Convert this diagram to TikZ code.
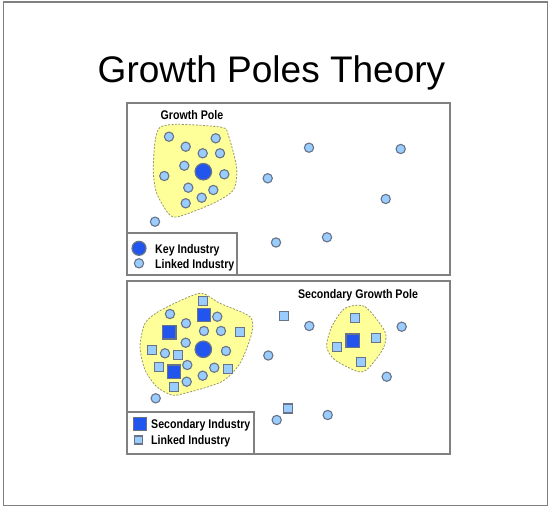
\documentclass[tikz,border=0pt]{standalone}
\usepackage{fontspec}
\setmainfont{Liberation Sans}
\newfontfamily\lblfont[FakeStretch=0.85]{Liberation Sans}
\usepackage{xcolor}
\usepackage{tikz}
\usetikzlibrary{positioning}
\definecolor{dotblue}{RGB}{153,204,255}
\definecolor{keyblue}{RGB}{34,85,238}
\definecolor{edgegray}{RGB}{105,115,135}
\definecolor{poleyellow}{RGB}{255,255,153}
\definecolor{framegray}{RGB}{128,128,128}
\definecolor{dashgray}{RGB}{150,150,110}
\newcommand{\keyat}[2]{\node[keydot] (#1) at #2 {} ;}
\newcommand{\linkat}[2]{\node[linkdot] (#1) at #2 {} ;}
\newcommand{\secat}[2]{\node[secsq] (#1) at #2 {} ;}
\newcommand{\lsqat}[2]{\node[linksq] (#1) at #2 {} ;}

\begin{document}
\begin{tikzpicture}[x=1pt,y=-1pt,
    panel/.style={draw=framegray,line width=1.5pt,fill=white},
    poleblob/.style={draw=dashgray,dashed,dash pattern=on 2pt off 1.5pt,line width=0.8pt,fill=poleyellow},
    linkdot/.style={circle,draw=edgegray,line width=1.1pt,fill=dotblue,inner sep=0pt,minimum size=9.3pt},
    keydot/.style={circle,draw=edgegray,line width=1.2pt,fill=keyblue,inner sep=0pt,minimum size=16.5pt},
    linksq/.style={rectangle,draw=edgegray,line width=1.1pt,fill=dotblue,inner sep=0pt,minimum size=9pt},
    secsq/.style={rectangle,draw=edgegray,line width=1.2pt,fill=keyblue,inner sep=0pt,minimum size=13.5pt},
    lbl/.style={font=\lblfont\bfseries\fontsize{12.5}{14}\selectfont,inner sep=0pt}]
        \useasboundingbox (0,0) rectangle (554,510);
        \draw[framegray,line width=1.7pt] (3.5,1.8) rectangle (547.5,505.5);
        \node[anchor=base,inner sep=0pt,font=\fontsize{37}{40}\selectfont] (title) at (271.5,83) {Growth Poles Theory};
        % top panel
        \draw[panel] (127,103) rectangle (450,275);
        \draw[poleblob] plot[smooth cycle,tension=0.45] coordinates {(160,127.3) (178.3,124.3) (221.7,127.3) (228.3,135) (236.7,168.3) (233.3,190) (213.3,203.3) (178.3,216.7) (168.3,213.3) (156.7,193.3) (153.3,171.7) (155,141.7)};
        \node[lbl,anchor=base] (polelbl) at (192,120) {Growth Pole};
        \keyat{K1}{(203.3,171.7)}
        \linkat{L1}{(169,136.7)}
        \linkat{L2}{(215.7,138.3)}
        \linkat{L3}{(185.7,146.7)}
        \linkat{L4}{(202.7,153.3)}
        \linkat{L5}{(220,153.3)}
        \linkat{L6}{(184.3,165.7)}
        \linkat{L7}{(164.3,176)}
        \linkat{L8}{(224.3,174.3)}
        \linkat{L9}{(188.3,187.7)}
        \linkat{L10}{(213.3,190)}
        \linkat{L11}{(201.7,197.7)}
        \linkat{L12}{(185.7,203.3)}
        \linkat{O1}{(155,221.7)}
        \linkat{O2}{(267.7,178.3)}
        \linkat{O3}{(276,242.5)}
        \linkat{O4}{(309,147.7)}
        \linkat{O5}{(400.7,149)}
        \linkat{O6}{(385.7,199)}
        \linkat{O7}{(327,237.3)}
        % top legend
        \draw[panel,line width=1.2pt] (127,233) rectangle (237,275);
        \node[keydot,minimum size=14pt] (keyleg) at (139,248.3) {};
        \node[linkdot] (linkleg) at (139,263.3) {};
        \node[lbl,anchor=base west] (keytxt) at (155,253.3) {Key Industry};
        \node[lbl,anchor=base west] (linktxt) at (155,268.3) {Linked Industry};
        % bottom panel
        \draw[panel] (127,281) rectangle (450,454);
        \draw[poleblob] plot[smooth cycle,tension=0.45] coordinates {(201.7,293.3) (220,303.3) (250,316.7) (251.7,333.3) (240,363.3) (221.7,381.7) (185,393.3) (171.7,395) (156.7,386.7) (145,370) (140,346.7) (145,323.3) (158.3,311.7) (181.7,300)};
        \draw[poleblob] plot[smooth cycle,tension=0.45] coordinates {(345,308.3) (365,306.7) (385,331.7) (383.3,348.3) (368.3,368.3) (358.3,371.7) (335,360) (326.7,346.7) (331.7,326.7)};
        \node[lbl,anchor=base] (seclbl) at (358,298.3) {Secondary Growth Pole};
        \keyat{K2}{(203.3,349.3)}
        \secat{S1}{(204,315)}
        \secat{S2}{(169.3,332.3)}
        \secat{S3}{(174,371.7)}
        \secat{S4}{(352.7,340.7)}
        \lsqat{Q1}{(202.7,300.7)}
        \lsqat{Q2}{(240,332.3)}
        \lsqat{Q3}{(151.7,350)}
        \lsqat{Q4}{(178.3,355)}
        \lsqat{Q5}{(159,367.3)}
        \lsqat{Q6}{(228.3,369.3)}
        \lsqat{Q7}{(174,386.7)}
        \lsqat{Q8}{(284,315.7)}
        \lsqat{Q9}{(288.3,408.5)}
        \lsqat{Q10}{(355,318.3)}
        \lsqat{Q11}{(336.7,347.3)}
        \lsqat{Q12}{(376,337.7)}
        \lsqat{Q13}{(361,361.7)}
        \linkat{M1}{(170,314)}
        \linkat{M2}{(217.3,316.7)}
        \linkat{M3}{(186,323.3)}
        \linkat{M4}{(204,331)}
        \linkat{M5}{(221,331)}
        \linkat{M6}{(185.7,342.7)}
        \linkat{M7}{(165,353.3)}
        \linkat{M8}{(226,351)}
        \linkat{M9}{(187.3,365)}
        \linkat{M10}{(214.3,367.7)}
        \linkat{M11}{(202.7,375.7)}
        \linkat{M12}{(186.7,381.7)}
        \linkat{P1}{(155.7,398.3)}
        \linkat{P2}{(268.3,355.5)}
        \linkat{P3}{(276.7,420)}
        \linkat{P4}{(309.3,326)}
        \linkat{P5}{(401.7,326.7)}
        \linkat{P6}{(386.7,376.7)}
        \linkat{P7}{(327.7,415)}
        % bottom legend
        \draw[panel,line width=1.2pt] (127,412) rectangle (254,454);
        \node[secsq] (secleg) at (140,424) {};
        \node[linksq,minimum size=8pt] (lsqleg) at (138.3,440) {};
        \node[lbl,anchor=base west] (sectxt) at (151,428) {Secondary Industry};
        \node[lbl,anchor=base west] (lsqtxt) at (151,444) {Linked Industry};
    \end{tikzpicture}
\end{document}
